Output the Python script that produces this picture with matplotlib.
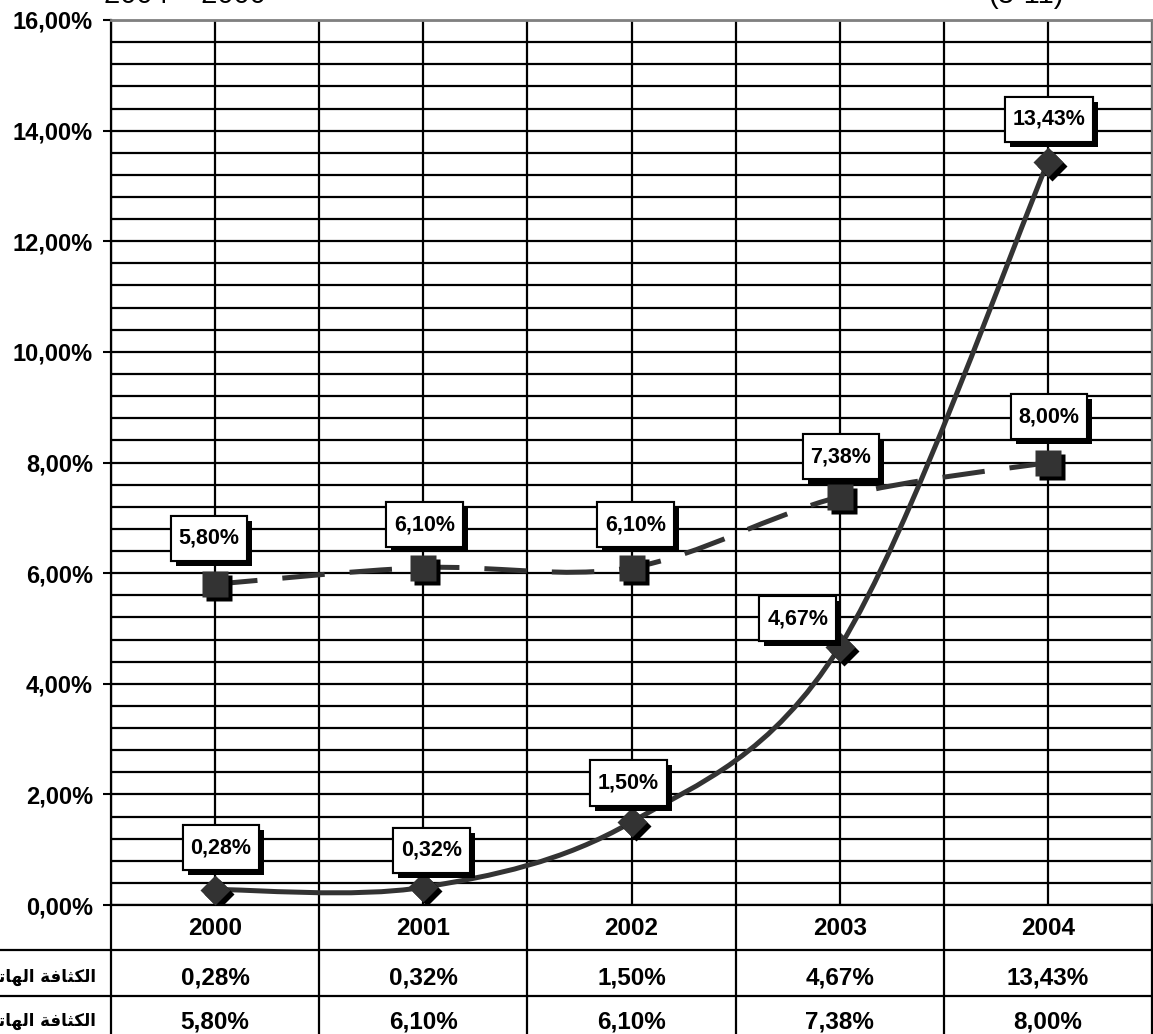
import numpy as np
import matplotlib
matplotlib.use('Agg')
import matplotlib.pyplot as plt
import matplotlib.patheffects as pe
from matplotlib.path import Path
from matplotlib.patches import PathPatch
from matplotlib.transforms import offset_copy, blended_transform_factory
from matplotlib.ticker import MultipleLocator, FuncFormatter

years = ['2000', '2001', '2002', '2003', '2004']
mobile = [0.28, 0.32, 1.50, 4.67, 13.43]   # solid line, diamonds
fixed = [5.80, 6.10, 6.10, 7.38, 8.00]     # dashed line, squares

# row labels (Arabic written in presentation forms, visual order)
label_mobile = '\ufe94\ufedf\ufe8e\ufed8\ufee8\ufedf\ufe8d \ufe94\ufef4\ufed4\ufe97\ufe8e\ufeec\ufedf\ufe8d \ufe94\ufed3\ufe8e\ufe9c\ufedc\ufedf\ufe8d'
label_fixed = '\ufe94\ufe98\ufe91\ufe8e\ufe9c\ufedf\ufe8d \ufe94\ufef4\ufed4\ufe97\ufe8e\ufeec\ufedf\ufe8d \ufe94\ufed3\ufe8e\ufe9c\ufedc\ufedf\ufe8d'

# label box offsets from the point, in pixels (centre of box)
off_mobile = [(6, 42), (8, 37), (-3, 39), (-42, 28), (1, 43)]
off_fixed = [(-6, 46), (1, 43), (4, 43), (1, 40), (1, 46)]

W, H = 1153, 1034
plt.rcParams['font.family'] = ['Liberation Sans', 'DejaVu Sans']
fig = plt.figure(figsize=(W / 100, H / 100), dpi=100)
ax = fig.add_axes([111 / W, 1 - 905 / H, (1152 - 111) / W, (905 - 20) / H])

ax.set_xlim(-0.5, 4.5)
ax.set_ylim(0, 16)
ax.yaxis.set_major_locator(MultipleLocator(2))
ax.yaxis.set_minor_locator(MultipleLocator(0.4))
ax.yaxis.set_major_formatter(FuncFormatter(lambda v, p: f'{v:.2f}%'.replace('.', ',')))
ax.set_xticks(np.arange(-0.5, 4.6, 0.5))
ax.set_xticklabels([])
ax.tick_params(axis='x', length=0)
ax.tick_params(axis='y', which='major', length=6, width=1.5, pad=7, labelsize=17)
ax.tick_params(axis='y', which='minor', length=0)
for lab in ax.get_yticklabels():
    lab.set_fontweight('bold')
ax.grid(True, which='both', axis='y', color='black', lw=1.6, zorder=1)
ax.grid(True, which='major', axis='x', color='black', lw=1.6, zorder=1)
ax.set_axisbelow(True)
for s in ['top', 'right']:
    ax.spines[s].set_color('#808080')
    ax.spines[s].set_linewidth(2)
for s in ['left', 'bottom']:
    ax.spines[s].set_color('black')
    ax.spines[s].set_linewidth(1.6)

line_col = '#333333'


def smooth_path(xs, ys):
    pts = np.column_stack([xs, ys]).astype(float)
    n = len(pts)
    verts = [pts[0]]
    codes = [Path.MOVETO]
    for i in range(n - 1):
        p0 = pts[max(i - 1, 0)]
        p1 = pts[i]
        p2 = pts[i + 1]
        p3 = pts[min(i + 2, n - 1)]
        verts += [p1 + (p2 - p0) / 6, p2 - (p3 - p1) / 6, p2]
        codes += [Path.CURVE4] * 3
    return Path(verts, codes)


xs = np.arange(len(years))
ax.add_patch(PathPatch(smooth_path(xs, mobile), fill=False, ec=line_col, lw=3.6, zorder=3, capstyle='butt'))
ax.add_patch(PathPatch(smooth_path(xs, fixed), fill=False, ec=line_col, lw=3.6, zorder=3,
                       linestyle=(0, (8.5, 5.0)), capstyle='butt'))

shadow = offset_copy(ax.transData, fig=fig, x=4, y=-4, units='dots')
ax.plot(xs, mobile, 'D', ms=15.5, color='black', mec='none', transform=shadow, zorder=4)
ax.plot(xs, mobile, 'D', ms=15.5, color=line_col, mec='none', zorder=5)
ax.plot(xs, fixed, 's', ms=19, color='black', mec='none', transform=shadow, zorder=4)
ax.plot(xs, fixed, 's', ms=19, color=line_col, mec='none', zorder=5)


def fmt(v):
    return f'{v:.2f}%'.replace('.', ',')


def label_box(x0, y0, width, height, mutation_size):
    padx = 0.36 * mutation_size
    pady = 0.56 * mutation_size
    l, r = x0 - padx, x0 + width + padx
    b, t = y0 - pady, y0 + height + pady
    return Path([(l, b), (r, b), (r, t), (l, t), (l, b)], closed=True)


def add_label(x, v, dx, dy):
    t = ax.annotate(fmt(v), (x, v), xytext=(dx, dy), textcoords='offset pixels', ha='center',
                    va='center', fontsize=15.5, fontweight='bold', zorder=8,
                    bbox=dict(boxstyle=label_box, fc='white', ec='black', lw=1.5))
    t.get_bbox_patch().set_path_effects([
        pe.withSimplePatchShadow(offset=(3.6, -3.6), shadow_rgbFace='black', alpha=1.0),
        pe.Normal()])


for x, v, (dx, dy) in zip(xs, mobile, off_mobile):
    add_label(x, v, dx, dy)
for x, v, (dx, dy) in zip(xs, fixed, off_fixed):
    add_label(x, v, dx, dy)

# data table under the plot
fy = lambda py: 1 - py / H
btr = blended_transform_factory(ax.transData, fig.transFigure)
for py in [950, 996]:
    fig.add_artist(plt.Line2D([0, 1], [fy(py), fy(py)], transform=fig.transFigure, color='black', lw=1.6))
for xb in np.arange(-0.5, 4.6, 1.0):
    fig.add_artist(plt.Line2D([xb, xb], [fy(905), 0], transform=btr, color='black', lw=1.6))
for i, yr in enumerate(years):
    fig.text(i, fy(935), yr, transform=btr, ha='center', va='baseline', fontsize=17.5, fontweight='bold')
    fig.text(i, fy(985), fmt(mobile[i]), transform=btr, ha='center', va='baseline', fontsize=17.5, fontweight='bold')
    fig.text(i, fy(1028), fmt(fixed[i]), transform=btr, ha='center', va='baseline', fontsize=17.5, fontweight='bold')
fig.text(96 / W, fy(982), label_mobile, ha='right', va='baseline', fontsize=12, fontweight='bold',
         family='DejaVu Sans')
fig.text(96 / W, fy(1026), label_fixed, ha='right', va='baseline', fontsize=12, fontweight='bold',
         family='DejaVu Sans')

# title, mostly cut off at the top edge
fig.text(104 / W, fy(3), '2004 – 2000', ha='left', va='baseline', fontsize=21)
fig.text(1064 / W, fy(3), '(3-11)', ha='right', va='baseline', fontsize=21)

fig.savefig('out.png', dpi=100)
